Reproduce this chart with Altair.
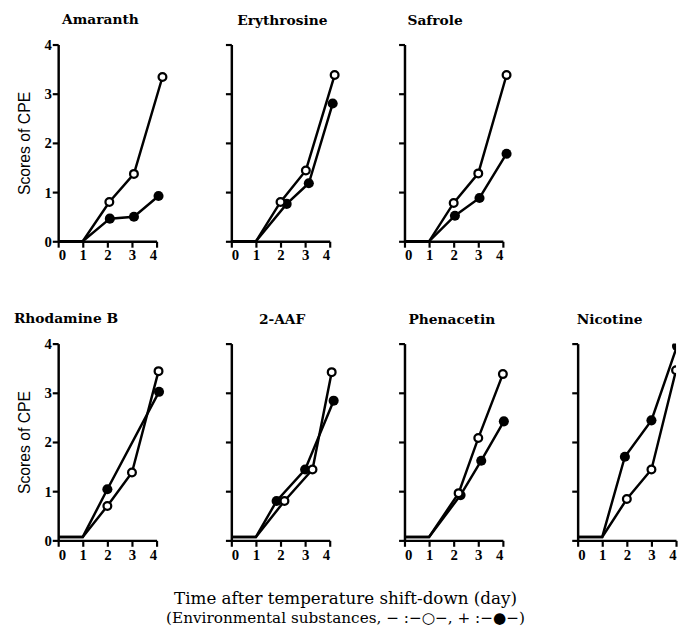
import altair as alt
import pandas as pd

names = ["Amaranth", "Erythrosine", "Safrole", "Rhodamine B", "2-AAF", "Phenacetin", "Nicotine"]
day_ticks = [0, 1, 2, 3, 4]
score_ticks = [0, 1, 2, 3, 4]

# "-" series (open circles): day position and CPE score
minus_x = {
    "Amaranth":    [0, 1, 2.08, 3.08, 4.24],
    "Erythrosine": [0, 1, 2.0, 3.03, 4.2],
    "Safrole":     [0, 1, 2.0, 3.0, 4.15],
    "Rhodamine B": [0, 1, 2.0, 3.0, 4.08],
    "2-AAF":       [0, 1, 2.16, 3.3, 4.08],
    "Phenacetin":  [0, 1, 2.2, 3.0, 4.0],
    "Nicotine":    [0, 1, 2.0, 3.0, 4.0],
}
minus_y = {
    "Amaranth":    [0, 0, 0.8, 1.37, 3.34],
    "Erythrosine": [0, 0, 0.8, 1.44, 3.38],
    "Safrole":     [0, 0, 0.78, 1.38, 3.38],
    "Rhodamine B": [0.07, 0.07, 0.7, 1.38, 3.44],
    "2-AAF":       [0.07, 0.07, 0.8, 1.44, 3.42],
    "Phenacetin":  [0.07, 0.07, 0.96, 2.08, 3.38],
    "Nicotine":    [0.07, 0.07, 0.84, 1.44, 3.46],
}
# "+" series (filled circles)
plus_x = {
    "Amaranth":    [0, 1, 2.1, 3.08, 4.08],
    "Erythrosine": [0, 1, 2.25, 3.15, 4.12],
    "Safrole":     [0, 1, 2.05, 3.05, 4.15],
    "Rhodamine B": [0, 1, 2.0, 4.1],
    "2-AAF":       [0, 1, 1.84, 3.0, 4.16],
    "Phenacetin":  [0, 1, 2.28, 3.12, 4.04],
    "Nicotine":    [0, 1, 1.92, 3.0, 4.04],
}
plus_y = {
    "Amaranth":    [0, 0, 0.46, 0.5, 0.92],
    "Erythrosine": [0, 0, 0.76, 1.18, 2.8],
    "Safrole":     [0, 0, 0.52, 0.88, 1.78],
    "Rhodamine B": [0.07, 0.07, 1.04, 3.02],
    "2-AAF":       [0.07, 0.07, 0.8, 1.44, 2.84],
    "Phenacetin":  [0.07, 0.07, 0.92, 1.62, 2.42],
    "Nicotine":    [0.07, 0.07, 1.7, 2.44, 3.95],
}

caption_line1 = "Time after temperature shift-down (day)"
caption_line2 = "(Environmental substances, \u2212 :\u2212\u25cb\u2212, + :\u2212\u25cf\u2212)"

# layout / style (not data)
title_dx = {"Amaranth": 4, "Erythrosine": 6, "Safrole": 3, "Rhodamine B": -45,
            "2-AAF": 28, "Phenacetin": 4, "Nicotine": -1}
W, H = 100, 200


def frame_for(name):
    rows = []
    for s, xs, ys in (("minus", minus_x[name], minus_y[name]), ("plus", plus_x[name], plus_y[name])):
        for k, (xv, yv) in enumerate(zip(xs, ys)):
            rows.append({"series": s, "idx": k, "day": xv, "score": yv, "marker": xv > 1.5})
    return pd.DataFrame(rows)


def panel(name, first_col):
    df = frame_for(name)
    clip = name == "Nicotine"
    x = alt.X("day:Q", scale=alt.Scale(domain=[0, 4], nice=False, zero=False),
              axis=alt.Axis(values=day_ticks, title=None, labelFlush=True, format="d"))
    if first_col:
        yaxis = alt.Axis(values=score_ticks, title="Scores of CPE", format="d")
    else:
        yaxis = alt.Axis(values=score_ticks, title=None, labels=False)
    y = alt.Y("score:Q", scale=alt.Scale(domain=[0, 4], nice=False), axis=yaxis)
    base = alt.Chart(df)
    line = base.mark_line(color="black", strokeWidth=2.5, clip=clip).encode(
        x=x, y=y, detail="series:N", order="idx:Q")
    filled = base.transform_filter(
        (alt.datum.series == "plus") & alt.datum.marker
    ).mark_circle(color="black", size=105, opacity=1, clip=clip).encode(x=x, y=y)
    opened = base.transform_filter(
        (alt.datum.series == "minus") & alt.datum.marker
    ).mark_point(shape="circle", filled=True, fill="white", stroke="black",
                 strokeWidth=2.3, size=62, opacity=1, clip=clip).encode(x=x, y=y)
    return alt.layer(line, filled, opened).properties(
        width=W, height=H,
        title=alt.TitleParams(name, anchor="start", frame="group", dx=title_dx[name],
                              dy=5 if first_col else 0,
                              font="DejaVu Serif", fontSize=14, fontWeight="bold",
                              color="black", offset=16),
    )


placeholder = alt.Chart(pd.DataFrame({"a": [0]})).mark_point(opacity=0).encode(
    x=alt.X("a:Q", axis=None), y=alt.Y("a:Q", axis=None)
).properties(width=W, height=H)

charts = [panel("Amaranth", True), panel("Erythrosine", False), panel("Safrole", False),
          placeholder,
          panel("Rhodamine B", True), panel("2-AAF", False), panel("Phenacetin", False),
          panel("Nicotine", False)]

chart = alt.concat(*charts, columns=4, spacing={"row": 104, "column": 76}, bounds="flush").properties(
    title=alt.TitleParams(caption_line1, subtitle=caption_line2, orient="bottom", anchor="middle",
                          font="DejaVu Serif", fontSize=17, fontWeight="normal", color="black",
                          subtitleFont="DejaVu Serif", subtitleFontSize=15.5,
                          subtitleColor="black", subtitlePadding=3, offset=30),
    padding={"left": 6, "top": 0, "right": 0, "bottom": 0},
    background="white",
).configure_view(stroke=None).configure_axis(
    grid=False, domainColor="black", domainWidth=2.5, tickColor="black", tickWidth=2.2,
    tickSize=6, labelColor="black", labelFont="Liberation Serif", labelFontWeight="bold",
    labelFontSize=15, labelPadding=1, titleFont="Liberation Sans", titleFontSize=16,
    titleFontWeight="normal", titleColor="black", titlePadding=12,
)

chart.save("out.html", embed_options={"renderer": "svg", "actions": False})
